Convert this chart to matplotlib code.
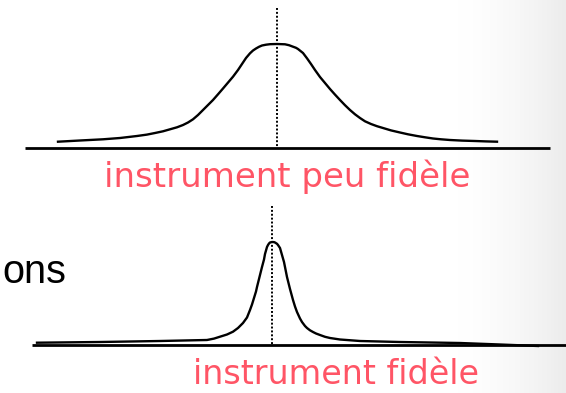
import numpy as np
import matplotlib
matplotlib.use("Agg")
import matplotlib.pyplot as plt

# Curve (pixel units, y downward)
wide_x = [58, 80, 103, 120, 137, 147, 155, 163, 170, 177, 183, 188, 193, 198, 203, 208, 213, 218, 223, 228, 233,
          238, 242, 246, 250, 253, 256, 259, 262, 266, 270, 277,
          285, 289, 293, 296, 298, 300, 303, 307, 311, 315, 320, 325, 330, 335, 340, 345, 350, 355, 360,
          365, 371, 377, 383, 391, 400, 408, 417, 425, 433, 441, 450, 462, 475, 486, 497]
wide_y = [141.7, 140.5, 139.3, 138, 136, 134.6, 133, 131.3, 129.3, 127.3, 125, 122.5, 119.3, 115, 110, 105, 100, 94.3, 88.5, 82.6, 76.7,
          70, 64, 58, 53.3, 50.5, 48.5, 46.8, 45.5, 44.7, 44.2, 44,
          44.3, 45.2, 46.7, 47.8, 49, 50.6, 53, 58.3, 64, 70, 77, 83, 89, 94.6, 100, 105.2, 110, 114.3, 118,
          121.3, 124, 126.2, 128, 130.4, 132.5, 134.3, 136, 137.3, 138.5, 139.3, 140, 140.6, 141, 141.4, 141.7]

narrow_x = [37, 100, 160, 207, 214, 220, 227, 233, 238, 243, 247, 250, 252, 254, 256, 257, 260, 262, 264, 265, 266,
            267, 268, 269, 270, 272, 274, 275, 277, 278, 279, 280, 282, 284,
            287, 290, 293, 295, 297, 300, 302, 305, 307, 310, 313, 316, 320, 325, 330, 340, 360, 400, 460, 500, 538]
narrow_y = [342.7, 342, 341, 340, 338.6, 336.7, 334.5, 331.7, 328, 323, 317.5, 310, 304.5, 298, 291.5, 287, 275, 267, 259.5, 254, 250.5,
            247, 245, 243.5, 242.5, 242, 242.1, 242.5, 243.8, 245, 246.5, 248, 255, 262,
            277, 289, 300, 306.5, 312, 318.5, 322, 326, 328, 330.3, 332, 333.5, 335, 336.8, 338, 339.5, 341, 342, 343, 344.5, 346]

label_top = "instrument peu fidèle"
label_bottom = "instrument fidèle"
side_text = "ons"

W, H = 566, 393
fig = plt.figure(figsize=(W / 100, H / 100), dpi=100)
ax = fig.add_axes([0, 0, 1, 1])
ax.set_xlim(0, W)
ax.set_ylim(H, 0)
ax.axis("off")

# right-side light grey gradient background
grad = np.linspace(0, 1, 200) ** 1.6
g = np.tile(grad, (2, 1))
ax.imshow(g, extent=[455, W, H, 0], cmap=matplotlib.colors.LinearSegmentedColormap.from_list(
    "g", ["#ffffff", "#ececec"]), aspect="auto", zorder=0, vmin=0, vmax=1)

# top panel
ax.plot([25, 550], [147.5, 147.5], color="black", lw=2.0, solid_capstyle="butt", zorder=2)
ax.plot(wide_x, wide_y, color="black", lw=1.7, zorder=3, solid_joinstyle="round")
ax.plot([277, 277], [8, 147], color="black", lw=1.4, linestyle=(0, (1, 1)), zorder=4)
ax.text(287, 187, label_top, color="#ff5566", fontsize=24.5, ha="center", va="baseline",
        family="DejaVu Sans")

# bottom panel
ax.plot([32, W], [345, 345], color="black", lw=2.0, solid_capstyle="butt", zorder=2)
ax.plot(narrow_x, narrow_y, color="black", lw=1.7, zorder=3, solid_joinstyle="round")
ax.plot([272, 272], [206, 345], color="black", lw=1.4, linestyle=(0, (1, 1)), zorder=4)
ax.text(336, 384, label_bottom, color="#ff5566", fontsize=24, ha="center", va="baseline",
        family="DejaVu Sans")

ax.text(2, 283, side_text, color="black", fontsize=28.5, ha="left", va="baseline",
        family="Liberation Sans")

fig.savefig("out.png", dpi=100)
